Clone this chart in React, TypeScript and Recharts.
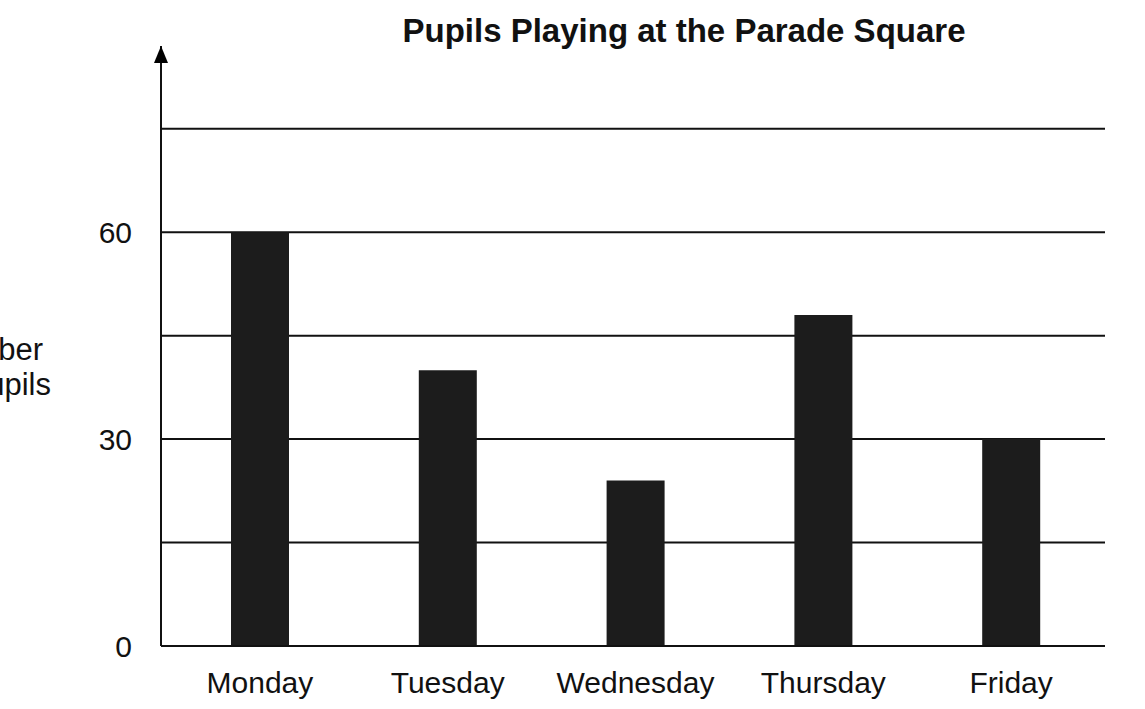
import { BarChart, Bar, XAxis, YAxis, CartesianGrid } from 'recharts'

const days = ['Monday', 'Tuesday', 'Wednesday', 'Thursday', 'Friday']
const pupils = [60, 40, 24, 48, 30]
const yTicks = [0, 15, 30, 45, 60, 75]
const labelledTicks = [0, 30, 60]

const data = days.map((day, i) => ({ day, pupils: pupils[i] }))

const FONT = '"Liberation Sans", Arial, sans-serif'

// y-axis arrowhead + the (cropped) axis title, drawn off the axis viewBox
function AxisDecor(props: any): JSX.Element {
  const { x, y, width } = props.viewBox
  const ax = x + width
  return (
    <g>
      <polygon points={`${ax},${y} ${ax - 7},${y + 17} ${ax + 7},${y + 17}`} fill="#000" />
      <text x={x + 43} y={360} textAnchor="end" fontSize={31} fill="#111" fontFamily={FONT}>
        Number
      </text>
      <text x={x + 51} y={395} textAnchor="end" fontSize={31} fill="#111" fontFamily={FONT}>
        of pupils
      </text>
    </g>
  )
}

export default function App(): JSX.Element {
  return (
    <div style={{ position: 'absolute', left: 0, top: 0, width: 1145, height: 709, background: '#fff' }}>
      <div
        style={{
          position: 'absolute', left: 0, width: 1368, top: 14, textAlign: 'center',
          fontFamily: FONT, fontWeight: 'bold', fontSize: 33, lineHeight: '33px', color: '#111',
        }}
      >
        Pupils Playing at the Parade Square
      </div>
      <BarChart width={1145} height={709} data={data} margin={{ top: 46, right: 40, bottom: 33, left: 0 }}>
        <CartesianGrid vertical={false} horizontalValues={yTicks} stroke="#111" strokeWidth={2} />
        <XAxis
          dataKey="day"
          padding={{ left: 5, right: 0 }}
          axisLine={{ stroke: '#111', strokeWidth: 2 }}
          tickLine={false}
          tickSize={0}
          tickMargin={26}
          tick={{ fontSize: 30, fill: '#111', fontFamily: FONT }}
        />
        <YAxis
          width={161}
          domain={[0, 87]}
          ticks={yTicks}
          interval={0}
          tickFormatter={(v: number) => (labelledTicks.includes(v) ? String(v) : '')}
          axisLine={{ stroke: '#111', strokeWidth: 2 }}
          tickLine={false}
          tickSize={0}
          tickMargin={29}
          tick={{ fontSize: 30, fill: '#111', fontFamily: FONT }}
          label={<AxisDecor />}
        />
        <Bar dataKey="pupils" fill="#1c1c1c" barSize={58} isAnimationActive={false} />
      </BarChart>
    </div>
  )
}
